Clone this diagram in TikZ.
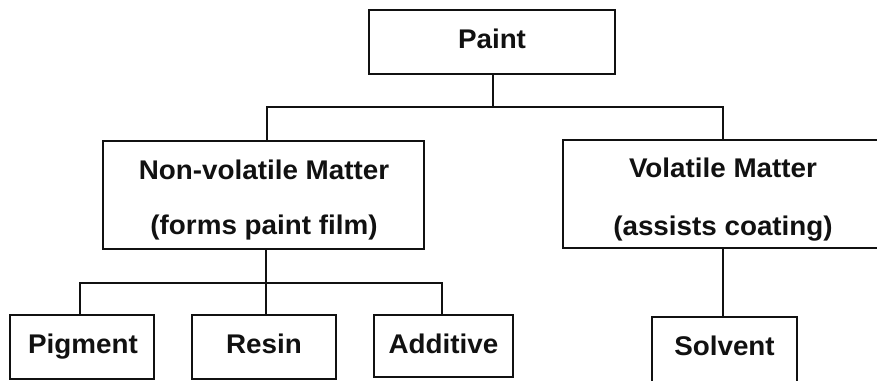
\documentclass[tikz,border=0pt]{standalone}
\usepackage{fontspec}
\setmainfont{Liberation Sans}[FakeStretch=1.03]
\definecolor{ink}{HTML}{111111}
\begin{document}
\begin{tikzpicture}[x=1pt,y=-1pt,
  box/.style={draw=ink, line width=1.8pt, rectangle, inner sep=0pt},
  lbl/.style={font=\bfseries\fontsize{27}{32}\selectfont, text=ink, anchor=base, inner sep=0pt},
  conn/.style={draw=ink, line width=1.8pt}]
\clip (0,0) rectangle (877,380);
\fill[white] (0,0) rectangle (877,380);
% boxes
\node[box, minimum width=246pt, minimum height=64pt] (paint) at (492,42) {};
\node[box, minimum width=321pt, minimum height=108pt] (nonvol) at (263.5,195) {};
\node[box, minimum width=320pt, minimum height=108pt] (vol) at (723,194) {};
\node[box, minimum width=144pt, minimum height=64pt] (pigment) at (82,347) {};
\node[box, minimum width=144pt, minimum height=64pt] (resin) at (264,347) {};
\node[box, minimum width=139pt, minimum height=62pt] (additive) at (443.5,346) {};
\node[box, minimum width=145pt, minimum height=68pt] (solvent) at (724.5,351) {};
% texts
\node[lbl] (tpaint) at (492,48) {Paint};
\node[lbl] (tnv1) at (264,179) {Non-volatile Matter};
\node[lbl] (tnv2) at (264,234) {(forms paint film)};
\node[lbl] (tv1) at (723,177) {Volatile Matter};
\node[lbl] (tv2) at (723,235) {(assists coating)};
\node[lbl] (tpig) at (83,353) {Pigment};
\node[lbl] (tres) at (264,353) {Resin};
\node[lbl] (tadd) at (443.5,353) {Additive};
\node[lbl] (tsol) at (724.5,355) {Solvent};
% connectors
\coordinate (j1) at (493,107);
\coordinate (j2) at (266,283);
\draw[conn] (paint.south -| j1) -- (j1);
\draw[conn] ([xshift=3.5pt]nonvol.north) |- (j1) -| (vol.north);
\draw[conn] (nonvol.south -| j2) -- (j2);
\draw[conn] ([xshift=-2pt]pigment.north) |- (j2) -| ([xshift=-1.5pt]additive.north);
\draw[conn] (j2) -- (resin.north -| j2);
\draw[conn] (vol.south) -- (vol.south |- solvent.north);
\end{tikzpicture}
\end{document}
